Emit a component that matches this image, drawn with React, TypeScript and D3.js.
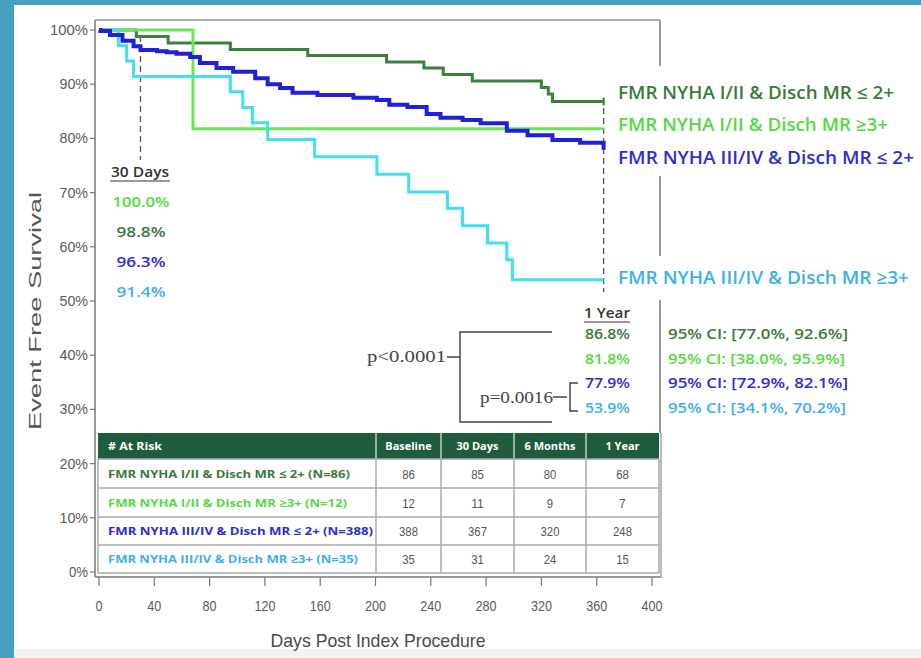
import React from "react";
import * as d3 from "d3";

const W = 921;
const H = 658;

// ---- data ----
const seriesNames = [
  "FMR NYHA I/II & Disch MR ≤ 2+",
  "FMR NYHA I/II & Disch MR ≥3+",
  "FMR NYHA III/IV & Disch MR ≤ 2+",
  "FMR NYHA III/IV & Disch MR ≥3+",
];
const lineColors = ["#3d7f3d", "#6ae655", "#2020dc", "#40e0f0"];
const textColors = ["#3a7a3a", "#55d944", "#2d2dd0", "#3fb0e6"];

const darkGreenDays = [0, 27, 50, 95, 151, 208, 235, 249, 270, 320, 325, 328, 365];
const darkGreenSurv = [100, 98.8, 97.6, 96.4, 95.3, 94.1, 93.0, 91.8, 90.6, 89.4, 88.2, 86.8, 86.8];

const lightGreenDays = [0, 68, 365];
const lightGreenSurv = [100, 81.8, 81.8];

const blueDays = [0, 1, 8, 17, 25, 30, 42, 49, 56, 66, 73, 85, 97, 113, 122, 131, 140, 158, 184, 201, 210, 223, 237, 247, 263, 276, 295, 310, 328, 348, 365];
const blueSurv = [100, 99.8, 99.1, 98.0, 97.0, 96.3, 96.1, 95.9, 95.6, 95.0, 93.9, 93.0, 92.3, 91.1, 90.0, 89.3, 88.4, 88.0, 87.5, 87.1, 86.2, 85.8, 84.5, 83.8, 83.4, 82.8, 81.4, 80.6, 79.7, 79.2, 77.9];

const cyanDays = [0, 14, 20, 25, 95, 104, 111, 122, 156, 201, 224, 252, 263, 281, 295, 299, 365];
const cyanSurv = [100, 97.1, 94.3, 91.4, 88.6, 85.7, 82.9, 79.8, 76.6, 73.4, 70.1, 67.1, 63.9, 60.7, 57.6, 53.9, 53.9];

const thirtyDayLabels = ["100.0%", "98.8%", "96.3%", "91.4%"];
const thirtyDayColors = [1, 0, 2, 3];
const oneYearLabels = ["86.8%", "81.8%", "77.9%", "53.9%"];
const ciLabels = [
  "95% CI:  [77.0%, 92.6%]",
  "95% CI:  [38.0%, 95.9%]",
  "95% CI:  [72.9%, 82.1%]",
  "95% CI:  [34.1%, 70.2%]",
];

const tableHeaders = ["Baseline", "30 Days", "6 Months", "1 Year"];
const tableRowLabels = [
  "FMR NYHA I/II & Disch MR ≤ 2+ (N=86)",
  "FMR NYHA I/II & Disch MR ≥3+ (N=12)",
  "FMR NYHA III/IV & Disch MR ≤ 2+ (N=388)",
  "FMR NYHA III/IV & Disch MR ≥3+ (N=35)",
];
const atRisk = [
  [86, 85, 80, 68],
  [12, 11, 9, 7],
  [388, 367, 320, 248],
  [35, 31, 24, 15],
];

const xTicks = [0, 40, 80, 120, 160, 200, 240, 280, 320, 360, 400];
const yTicks = [0, 10, 20, 30, 40, 50, 60, 70, 80, 90, 100];

// ---- layout ----
const x = d3.scaleLinear().domain([0, 400]).range([99, 652]);
const y = d3.scaleLinear().domain([0, 100]).range([572, 30]);

const series = [
  { days: darkGreenDays, surv: darkGreenSurv },
  { days: lightGreenDays, surv: lightGreenSurv },
  { days: blueDays, surv: blueSurv },
  { days: cyanDays, surv: cyanSurv },
];
const drawOrder = [0, 1, 3, 2];
const lineWidths = [3, 3, 4, 3];

const stepLine = d3
  .line<[number, number]>()
  .x((d) => x(d[0]))
  .y((d) => y(d[1]))
  .curve(d3.curveStepAfter);

const tickFont = "'Liberation Sans', Arial, sans-serif";
const calibri = "'Open Sans', 'Noto Sans', sans-serif";
const serif = "'Liberation Serif', 'DejaVu Serif', serif";

const colEdges = [98, 376, 441, 514, 586, 659];
const rowEdges = [433, 459, 488, 517, 545, 573];

const legendBaselines = [99, 131, 164, 284];
const legendLens = [276, 270, 296, 291];
const rowLabelLens = [242, 239, 265, 250];
const ciLens = [180, 177, 180, 178];

export default function App() {
  return (
    <svg
      width={W}
      height={H}
      style={{ position: "absolute", left: 0, top: 0, display: "block" }}
      xmlns="http://www.w3.org/2000/svg"
    >
      <rect x={0} y={0} width={W} height={H} fill="#ffffff" />
      <rect x={0} y={649} width={W} height={9} fill="#f2f2f2" />
      <rect x={0} y={0} width={W} height={5} fill="#47a2bf" />
      <rect x={0} y={0} width={14} height={H} fill="#47a2bf" />

      {/* frame */}
      <line x1={95} y1={20} x2={660} y2={20} stroke="#999" strokeWidth={1.5} />
      <line x1={660} y1={20} x2={660} y2={433} stroke="#777" strokeWidth={1.5} />
      <line x1={95} y1={20} x2={95} y2={577} stroke="#777" strokeWidth={1.5} />

      {/* y ticks */}
      {yTicks.map((t) => (
        <g key={"yt" + t}>
          <line x1={90} x2={95} y1={y(t)} y2={y(t)} stroke="#777" strokeWidth={1.2} />
          <text
            x={88}
            y={y(t) + 5}
            fontSize={15}
            fill="#5a5a5a"
            textAnchor="end"
            fontFamily={tickFont}
            textLength={(String(t).length + 1) * 9.5}
            lengthAdjust="spacingAndGlyphs"
          >
            {t + "%"}
          </text>
        </g>
      ))}

      {/* x axis */}
      <line x1={95} x2={662} y1={577} y2={577} stroke="#999" strokeWidth={2} />
      {xTicks.map((t) => (
        <g key={"xt" + t}>
          <line x1={x(t)} x2={x(t)} y1={577} y2={586} stroke="#777" strokeWidth={1.2} />
          <text
            x={x(t)}
            y={611}
            fontSize={15}
            fill="#5a5a5a"
            textAnchor="middle"
            fontFamily={tickFont}
            textLength={String(t).length * 7}
            lengthAdjust="spacingAndGlyphs"
          >
            {t}
          </text>
        </g>
      ))}

      <text
        x={378}
        y={647}
        fontSize={19}
        fill="#4a4a4a"
        textAnchor="middle"
        fontFamily={tickFont}
        textLength={215}
        lengthAdjust="spacingAndGlyphs"
      >
        Days Post Index Procedure
      </text>
      <text
        transform="translate(41,311) rotate(-90)"
        fontSize={16}
        fill="#555"
        textAnchor="middle"
        fontFamily={tickFont}
        textLength={238}
        lengthAdjust="spacingAndGlyphs"
      >
        Event Free Survival
      </text>

      {/* reference dashed lines */}
      <line x1={x(30)} x2={x(30)} y1={36} y2={160} stroke="#555" strokeWidth={1.3} strokeDasharray="6,4" />
      <line x1={x(365)} x2={x(365)} y1={98} y2={292} stroke="#555" strokeWidth={1.3} strokeDasharray="6,4" />

      {/* curves */}
      {drawOrder.map((i) => {
        const pts = series[i].days.map((d, k) => [d, series[i].surv[k]] as [number, number]);
        return (
          <path
            key={"c" + i}
            d={stepLine(pts) || ""}
            fill="none"
            stroke={lineColors[i]}
            strokeWidth={lineWidths[i]}
            strokeLinejoin="miter"
          />
        );
      })}
      <line x1={x(365)} x2={x(365)} y1={y(86.8) - 4} y2={y(86.8) + 4} stroke={lineColors[0]} strokeWidth={2} />

      {/* legend (with white background over the frame) */}
      <rect x={612} y={66} width={309} height={110} fill="#fff" />
      <rect x={612} y={256} width={309} height={44} fill="#fff" />
      {seriesNames.map((n, i) => (
        <text
          key={"lg" + i}
          x={618}
          y={legendBaselines[i]}
          fontSize={18}
          fontWeight={600}
          fill={textColors[i]}
          fontFamily={calibri}
          textLength={legendLens[i]}
          lengthAdjust="spacingAndGlyphs"
        >
          {n}
        </text>
      ))}

      {/* 30 days block */}
      <text x={140} y={177} fontSize={14} fill="#333" textAnchor="middle" fontFamily={calibri} fontWeight={600} textLength={58} lengthAdjust="spacingAndGlyphs">
        30 Days
      </text>
      <line x1={110} x2={170} y1={181} y2={181} stroke="#333" strokeWidth={1.2} />
      {thirtyDayLabels.map((s, i) => (
        <text
          key={"td" + i}
          x={141}
          y={207 + i * 30}
          fontSize={15}
          fontWeight={600}
          fill={textColors[thirtyDayColors[i]]}
          textAnchor="middle"
          fontFamily={calibri}
          textLength={s.length === 6 ? 57 : 49}
          lengthAdjust="spacingAndGlyphs"
        >
          {s}
        </text>
      ))}

      {/* 1 year block */}
      <text x={630} y={318} fontSize={15} fill="#333" textAnchor="end" fontFamily={calibri} fontWeight={600} textLength={46} lengthAdjust="spacingAndGlyphs">
        1 Year
      </text>
      <line x1={584} x2={630} y1={322} y2={322} stroke="#333" strokeWidth={1.2} />
      {oneYearLabels.map((s, i) => (
        <text
          key={"oy" + i}
          x={630}
          y={339 + i * 24.7}
          fontSize={15}
          fontWeight={600}
          fill={textColors[i]}
          textAnchor="end"
          fontFamily={calibri}
          textLength={45}
          lengthAdjust="spacingAndGlyphs"
        >
          {s}
        </text>
      ))}
      {ciLabels.map((s, i) => (
        <text
          key={"ci" + i}
          x={668}
          y={339 + i * 24.7}
          fontSize={15}
          fontWeight={600}
          fill={textColors[i]}
          fontFamily={calibri}
          textLength={ciLens[i]}
          lengthAdjust="spacingAndGlyphs"
        >
          {s}
        </text>
      ))}

      {/* p-value brackets */}
      <text x={446} y={362} fontSize={17} fill="#444" textAnchor="end" fontFamily={serif} textLength={79} lengthAdjust="spacingAndGlyphs">
        p&lt;0.0001
      </text>
      <line x1={447} x2={460} y1={357} y2={357} stroke="#444" strokeWidth={1.5} />
      <path d="M552,332 H460 V422 H552" fill="none" stroke="#444" strokeWidth={1.5} />
      <text x={553} y={403} fontSize={17} fill="#444" textAnchor="end" fontFamily={serif} textLength={73} lengthAdjust="spacingAndGlyphs">
        p=0.0016
      </text>
      <line x1={553} x2={567} y1={397} y2={397} stroke="#444" strokeWidth={1.5} />
      <path d="M578,383 H570 V411 H578" fill="none" stroke="#444" strokeWidth={1.5} />

      {/* at-risk table */}
      <rect x={colEdges[0]} y={rowEdges[0]} width={colEdges[5] - colEdges[0]} height={rowEdges[5] - rowEdges[0]} fill="#fff" />
      <rect x={colEdges[0]} y={rowEdges[0]} width={colEdges[5] - colEdges[0]} height={rowEdges[1] - rowEdges[0]} fill="#1f5c3d" />
      {colEdges.slice(1, 5).map((cx, i) => (
        <line key={"hv" + i} x1={cx} x2={cx} y1={rowEdges[0]} y2={rowEdges[1]} stroke="#b8d0c0" strokeWidth={1.5} />
      ))}
      {colEdges.map((cx, i) => (
        <line key={"bv" + i} x1={cx} x2={cx} y1={rowEdges[1]} y2={rowEdges[5]} stroke="#aaa" strokeWidth={1.5} />
      ))}
      {rowEdges.slice(1).map((ry, i) => (
        <line key={"bh" + i} x1={colEdges[0]} x2={colEdges[5]} y1={ry} y2={ry} stroke="#aaa" strokeWidth={1.5} />
      ))}
      <text x={108} y={450} fontSize={11} fontWeight={700} fill="#fff" fontFamily={calibri} textLength={54} lengthAdjust="spacingAndGlyphs">
        # At Risk
      </text>
      {tableHeaders.map((h, j) => (
        <text
          key={"th" + j}
          x={(colEdges[j + 1] + colEdges[j + 2]) / 2}
          y={450}
          fontSize={11}
          fontWeight={700}
          fill="#fff"
          textAnchor="middle"
          fontFamily={calibri}
        >
          {h}
        </text>
      ))}
      {tableRowLabels.map((lab, i) => {
        const cy = (rowEdges[i + 1] + rowEdges[i + 2]) / 2;
        return (
          <g key={"tr" + i}>
            <text
              x={108}
              y={cy + 4}
              fontSize={11}
              fontWeight={700}
              fill={textColors[i]}
              fontFamily={calibri}
              textLength={rowLabelLens[i]}
              lengthAdjust="spacingAndGlyphs"
            >
              {lab}
            </text>
            {atRisk[i].map((v, j) => (
              <text
                key={"v" + j}
                x={(colEdges[j + 1] + colEdges[j + 2]) / 2}
                y={cy + 5}
                fontSize={13}
                fill="#555"
                textAnchor="middle"
                fontFamily={tickFont}
                textLength={String(v).length * 6.3}
                lengthAdjust="spacingAndGlyphs"
              >
                {v}
              </text>
            ))}
          </g>
        );
      })}
      <line x1={661} x2={661} y1={433} y2={577} stroke="#bbb" strokeWidth={2} />
    </svg>
  );
}
